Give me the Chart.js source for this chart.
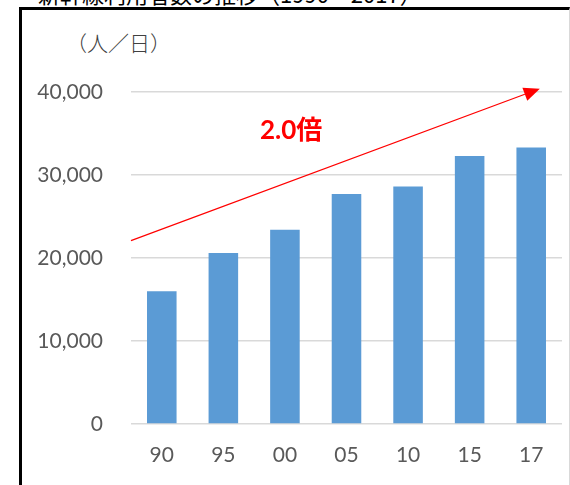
<!DOCTYPE html>
<html lang="ja">
<head>
<meta charset="utf-8">
<script src="https://cdn.jsdelivr.net/npm/chart.js@4/dist/chart.umd.min.js"></script>
<style>
  html, body { margin: 0; padding: 0; background: #fff; }
  body { width: 570px; height: 485px; position: relative; overflow: hidden; }
  #title { position: absolute; left: 38px; top: -23px; font: 22px 'Noto Sans CJK JP', sans-serif; color: #000; white-space: nowrap; }
  #frame { position: absolute; left: 19px; top: 7px; width: 547px; height: 490px;
    border-left: 3px solid #000; border-top: 3px solid #000; border-right: 1px solid #d9d9d9; }
  #unit { position: absolute; left: 66px; top: 27px; font: 21px 'Noto Sans CJK JP', sans-serif; font-weight: 300; color: #404040; }
  #wrap { position: absolute; left: 0; top: 0; width: 570px; height: 485px; }
</style>
</head>
<body>
<div id="title">新幹線利用者数の推移（1990～2017）</div>
<div id="frame"></div>
<div id="unit">（人／日）</div>
<div id="wrap"><canvas id="chart"></canvas></div>
<script>
// years (two-digit) and riders per day
const categories = ['90', '95', '00', '05', '10', '15', '17'];
const riders = [16000, 20600, 23400, 27700, 28600, 32300, 33300];
const yTicks = [0, 10000, 20000, 30000, 40000];

// growth arrow + label, in data units (category index, value)
const arrowFrom = [-0.5, 22100];
const arrowTo = [6.14, 40400];
const growthLabel = '2.0倍';
const growthAt = [2.1, 35400];

const arrowPlugin = {
  id: 'growthArrow',
  afterDatasetsDraw(chart) {
    const { ctx, scales: { x, y } } = chart;
    const px = p => x.getPixelForValue(p[0]);
    const py = p => y.getPixelForValue(p[1]);
    const x1 = px(arrowFrom), y1 = py(arrowFrom), x2 = px(arrowTo), y2 = py(arrowTo);
    const ang = Math.atan2(y2 - y1, x2 - x1);
    const head = 16, half = 7;
    ctx.save();
    ctx.strokeStyle = '#ff0000';
    ctx.fillStyle = '#ff0000';
    ctx.lineWidth = 1.3;
    ctx.beginPath();
    ctx.moveTo(x1, y1);
    ctx.lineTo(x2 - head * Math.cos(ang), y2 - head * Math.sin(ang));
    ctx.stroke();
    ctx.beginPath();
    ctx.moveTo(x2, y2);
    ctx.lineTo(x2 - head * Math.cos(ang) + half * Math.sin(ang), y2 - head * Math.sin(ang) - half * Math.cos(ang));
    ctx.lineTo(x2 - head * Math.cos(ang) - half * Math.sin(ang), y2 - head * Math.sin(ang) + half * Math.cos(ang));
    ctx.closePath();
    ctx.fill();
    ctx.font = "bold 26px Lato, 'Noto Sans CJK JP', sans-serif";
    ctx.textAlign = 'center';
    ctx.textBaseline = 'middle';
    ctx.fillText(growthLabel, px(growthAt), py(growthAt));
    ctx.restore();
  }
};

new Chart(document.getElementById('chart'), {
  type: 'bar',
  data: {
    labels: categories,
    datasets: [{
      data: riders,
      backgroundColor: '#5b9bd5',
      borderWidth: 0,
      barPercentage: 0.48,
      categoryPercentage: 1.0,
    }],
  },
  options: {
    responsive: true, maintainAspectRatio: false, animation: false,
    devicePixelRatio: 1,
    layout: { padding: { top: 92, right: 8, bottom: 0, left: 0 } },
    plugins: { legend: { display: false }, tooltip: { enabled: false } },
    scales: {
      x: {
        grid: { display: false, drawTicks: false },
        border: { display: false },
        ticks: { color: '#595959', font: { family: 'Lato', size: 21 }, padding: 19 },
        afterFit: (s) => { s.height = 61; },
      },
      y: {
        min: 0, max: 40000,
        afterBuildTicks: (s) => { s.ticks = yTicks.map(v => ({ value: v })); },
        grid: { color: '#d9d9d9', lineWidth: 1.6, drawTicks: false },
        border: { display: false },
        ticks: { color: '#595959', font: { family: 'Lato', size: 21 }, padding: 28,
          callback: (v) => v.toLocaleString('en-US') },
        afterFit: (s) => { s.width = 131; },
      },
    },
  },
  plugins: [arrowPlugin],
});
</script>
</body>
</html>
